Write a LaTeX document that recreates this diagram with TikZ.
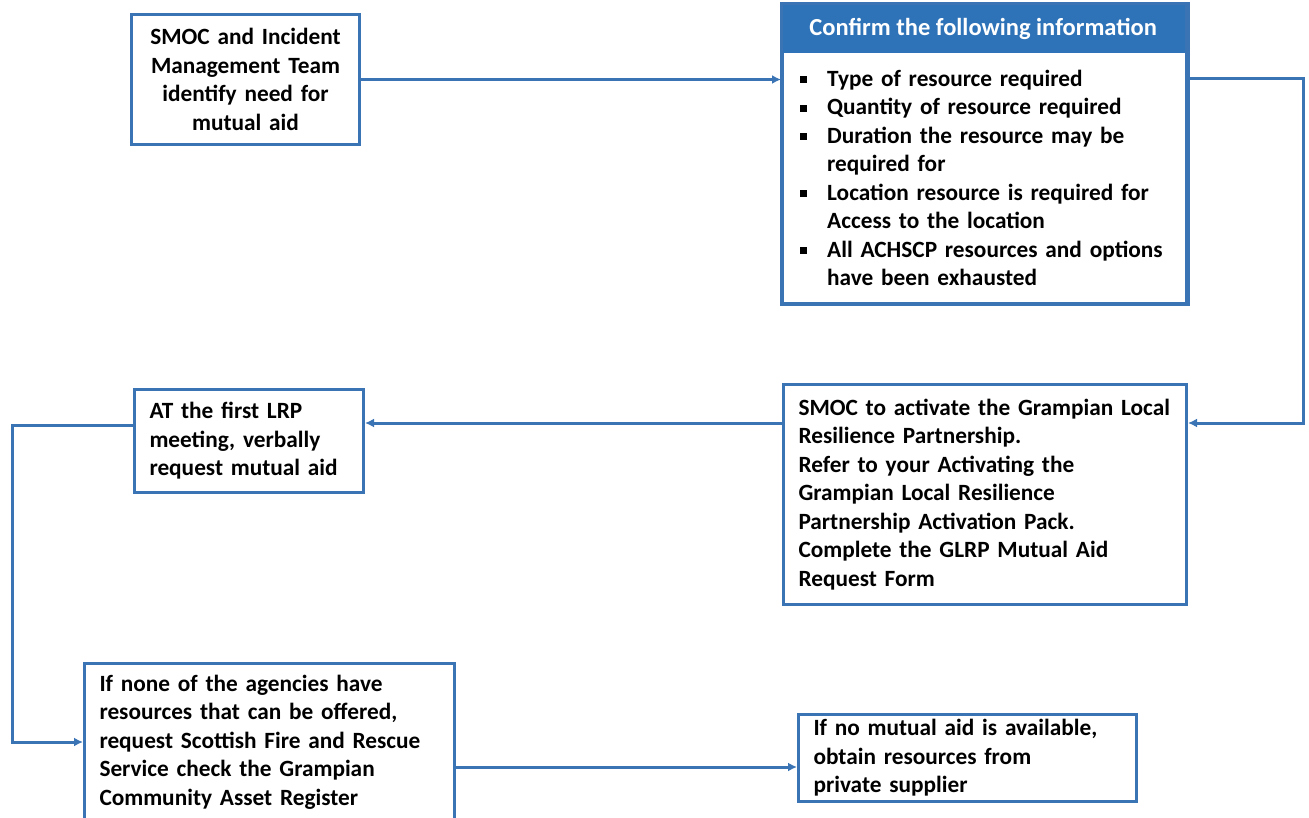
\documentclass[tikz,border=0pt]{standalone}
\usepackage{fontspec}
\setmainfont{Carlito}
\usetikzlibrary{arrows.meta,calc}
\definecolor{lineblue}{RGB}{58,116,181}
\definecolor{headblue}{RGB}{46,114,184}
\newcommand{\bul}{\makebox[27pt][l]{\rule[3pt]{7pt}{7pt}}}
\newcommand{\ind}{\hspace*{27pt}}
\begin{document}
\begin{tikzpicture}[x=1pt,y=-1pt,
  every node/.style={font=\fontsize{23.3}{28.5}\selectfont\bfseries},
  box/.style={draw=lineblue,line width=3pt,fill=white,rectangle,anchor=north west,inner xsep=15pt,inner ysep=0pt},
  arr/.style={draw=lineblue,line width=3pt,-{Latex[length=9pt,width=9pt]}}]
\clip (0,0) rectangle (1309,818);
\fill[white] (0,0) rectangle (1309,818);
% Box A
\node[box,inner xsep=6pt,minimum width=228pt,minimum height=130pt,text width=216pt,align=center] (A) at (130,13)
  {SMOC and Incident\\ Management Team\\ identify need for\\ mutual aid};
% Box B frame
\node[box,minimum width=404pt,minimum height=298pt] (B) at (781,4) {};
\node[anchor=north west,fill=headblue,minimum width=404pt,minimum height=49pt,inner sep=0pt,text=white,font=\fontsize{24.5}{28.5}\selectfont\bfseries] (Bh) at (781,4)
  {Confirm the following information};
\draw[lineblue,line width=3pt] (B.north west) rectangle (B.south east);
\node[anchor=north west,minimum width=404pt,minimum height=249pt,inner xsep=19pt,inner ysep=0pt,text width=366pt,align=left] (Bt) at (781,53)
  {\bul Type of resource required\\
   \bul Quantity of resource required\\
   \bul Duration the resource may be\\
   \ind required for\\
   \bul Location resource is required for\\
   \ind Access to the location\\
   \bul All ACHSCP resources and options\\
   \ind have been exhausted};
% Box C
\node[box,minimum width=403pt,minimum height=220pt,text width=373pt,align=left] (C) at (782,383)
  {SMOC to activate the Grampian Local\\
   Resilience Partnership.\\
   Refer to your Activating the\\
   Grampian Local Resilience\\
   Partnership Activation Pack.\\
   Complete the GLRP Mutual Aid\\
   Request Form};
% Box D
\node[box,minimum width=229pt,minimum height=103pt,text width=199pt,align=left] (D) at (133,388)
  {AT the first LRP\\ meeting, verbally\\ request mutual aid};
% Box E
\node[box,minimum width=370pt,minimum height=157pt,text width=340pt,align=left] (E) at (83,662)
  {If none of the agencies have\\
   resources that can be offered,\\
   request Scottish Fire and Rescue\\
   Service check the Grampian\\
   Community Asset Register};
% Box F
\node[box,minimum width=338pt,minimum height=87pt,text width=308pt,align=left] (F) at (797,713)
  {If no mutual aid is available,\\ obtain resources from\\ private supplier};
% connectors
\coordinate (r1) at (1303,79);
\coordinate (r2) at (1303,423);
\coordinate (l1) at (12,425);
\coordinate (l2) at (12,742);
\coordinate (m1) at (620,767);
\draw[arr] (A.east) -- (A.east -| B.west);
\draw[arr] (r1 -| B.east) -- (r1) -- (r2) -- (r2 -| C.east);
\draw[arr] (r2 -| C.west) -- (r2 -| D.east);
\draw[arr] (l1 -| D.west) -- (l1) -- (l2) -- (l2 -| E.west);
\draw[arr] (m1 -| E.east) -- (m1 -| F.west);
\end{tikzpicture}
\end{document}
